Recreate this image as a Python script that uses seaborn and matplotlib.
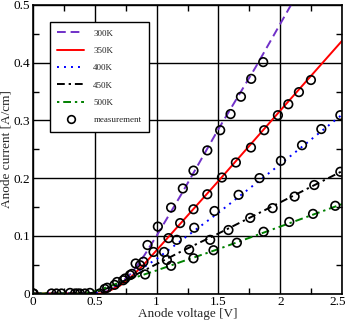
import numpy as np
import pandas as pd
import matplotlib
matplotlib.use("Agg")
import matplotlib.pyplot as plt
import matplotlib.transforms as mtransforms
import seaborn as sns
from matplotlib.ticker import MultipleLocator, FuncFormatter
from matplotlib.lines import Line2D

sns.set_theme(style="ticks")
plt.rcParams['font.family'] = ['Liberation Serif', 'DejaVu Serif']

# ---- model curves (anode voltage [V] -> anode current [A/cm]) ----
v_300 = [0.0, 0.5, 0.6, 0.7, 0.8, 0.9, 1.0, 1.2, 1.5, 1.8, 2.1]
i_300 = [0.0, 0.0, 0.004, 0.016, 0.036, 0.066, 0.100, 0.172, 0.285, 0.392, 0.505]

v_350 = [0.0, 0.55, 0.6, 0.7, 0.8, 0.9, 1.0, 1.2, 1.5, 2.0, 2.5]
i_350 = [0.0, 0.0, 0.003, 0.013, 0.030, 0.051, 0.075, 0.123, 0.195, 0.317, 0.438]

v_400 = [0.0, 0.5, 0.6, 0.7, 0.8, 0.9, 1.0, 1.2, 1.5, 2.0, 2.5]
i_400 = [0.0, 0.0, 0.007, 0.018, 0.032, 0.046, 0.060, 0.092, 0.140, 0.224, 0.310]

v_450 = [0.0, 0.45, 0.5, 0.6, 0.7, 0.8, 0.9, 1.0, 1.2, 1.5, 2.0, 2.5]
i_450 = [0.0, 0.0, 0.002, 0.009, 0.018, 0.029, 0.040, 0.051, 0.073, 0.104, 0.158, 0.212]

v_500 = [0.0, 0.4, 0.5, 0.6, 0.7, 0.8, 0.9, 1.0, 1.2, 1.5, 2.0, 2.5]
i_500 = [0.0, 0.0, 0.004, 0.011, 0.019, 0.026, 0.033, 0.040, 0.055, 0.077, 0.116, 0.155]

labels = ["300K", "350K", "400K", "450K", "500K"]
colors = ["#7030c8", "#ff0000", "#0000ff", "#000000", "#008000"]

# ---- measurements ----
meas_v_low = [0.0, 0.005, 0.15, 0.19, 0.23, 0.30, 0.34, 0.36, 0.38, 0.42, 0.46,
              0.54, 0.58, 0.60, 0.66, 0.68, 0.73, 0.745, 0.785, 0.80]
meas_i_low = [0.0, 0.0, 0.0, 0.0, 0.0, 0.001, 0.0, 0.0, 0.0, 0.0, 0.001,
              0.0, 0.008, 0.010, 0.015, 0.020, 0.023, 0.026, 0.032, 0.034]
meas_v_300 = [0.83, 0.926, 1.01, 1.117, 1.212, 1.298, 1.41, 1.514, 1.598, 1.682, 1.765, 1.862]
meas_i_300 = [0.052, 0.084, 0.116, 0.149, 0.182, 0.213, 0.248, 0.283, 0.311, 0.341, 0.372, 0.401]
meas_v_350 = [0.866, 0.975, 1.096, 1.19, 1.298, 1.41, 1.528, 1.641, 1.763, 1.870, 1.981, 2.065, 2.151, 2.248]
meas_i_350 = [0.049, 0.072, 0.096, 0.122, 0.146, 0.172, 0.201, 0.227, 0.253, 0.283, 0.309, 0.328, 0.349, 0.370]
meas_v_400 = [0.893, 1.06, 1.163, 1.304, 1.468, 1.663, 1.832, 2.005, 2.176, 2.332, 2.486]
meas_i_400 = [0.055, 0.072, 0.093, 0.114, 0.143, 0.171, 0.200, 0.230, 0.257, 0.285, 0.309]
meas_v_450 = [1.083, 1.263, 1.433, 1.581, 1.757, 1.938, 2.116, 2.275, 2.486]
meas_i_450 = [0.058, 0.076, 0.093, 0.110, 0.131, 0.148, 0.168, 0.188, 0.211]
meas_v_500 = [0.907, 1.117, 1.298, 1.46, 1.649, 1.865, 2.073, 2.265, 2.445]
meas_i_500 = [0.033, 0.048, 0.061, 0.075, 0.088, 0.107, 0.124, 0.138, 0.152]

model = pd.concat([
    pd.DataFrame({"V": v, "I": i, "T": lab})
    for v, i, lab in zip([v_300, v_350, v_400, v_450, v_500],
                         [i_300, i_350, i_400, i_450, i_500], labels)
], ignore_index=True)

meas = pd.DataFrame({
    "V": meas_v_low + meas_v_300 + meas_v_350 + meas_v_400 + meas_v_450 + meas_v_500,
    "I": meas_i_low + meas_i_300 + meas_i_350 + meas_i_400 + meas_i_450 + meas_i_500,
})

fig = plt.figure(figsize=(3.48, 3.22), dpi=100)
ax = fig.add_axes([0.0948, 0.0885, 0.8882, 0.896])

dashes = {
    "300K": (4.5, 2.5),
    "350K": "",
    "400K": (1, 2.6),
    "450K": (4, 2, 1.2, 2),
    "500K": (1.2, 2, 4, 2),
}
sns.lineplot(data=model, x="V", y="I", hue="T", style="T", palette=colors,
             dashes=dashes, hue_order=labels, style_order=labels,
             linewidth=1.4, ax=ax, legend=False, sort=False, estimator=None)

sns.scatterplot(data=meas, x="V", y="I", ax=ax, marker="o", s=38,
                facecolor="none", edgecolor="black", linewidth=1.2, zorder=5)

ax.set_xlim(0, 2.5)
ax.set_ylim(0, 0.5)
ax.xaxis.set_major_locator(MultipleLocator(0.5))
ax.xaxis.set_minor_locator(MultipleLocator(0.25))
ax.yaxis.set_major_locator(MultipleLocator(0.1))
ax.yaxis.set_minor_locator(MultipleLocator(0.05))
fmt = FuncFormatter(lambda v, p: "{:g}".format(round(v, 3)))
ax.xaxis.set_major_formatter(fmt)
ax.yaxis.set_major_formatter(fmt)
ax.grid(True, which="major", color="black", linewidth=1.0)
ax.tick_params(which="both", direction="in", top=True, right=True, colors="black",
               labelsize=9.5, pad=2)
ax.tick_params(which="major", length=0)
ax.tick_params(which="minor", length=4, width=1)
for s in ax.spines.values():
    s.set_color("black")
    s.set_linewidth(1.2)
ax.set_xlabel("Anode voltage [V]", fontsize=9.5, labelpad=0)
ax.set_ylabel("Anode current [A/cm]", fontsize=9.5, labelpad=1)

handles = []
for lab, c in zip(labels, colors):
    d = dashes[lab]
    h = Line2D([], [], color=c, linewidth=1.4)
    if d:
        h.set_dashes(d)
    handles.append(h)
handles.append(Line2D([], [], linestyle="none", marker="o", markersize=5.5,
                      markerfacecolor="none", markeredgecolor="black", markeredgewidth=1.2))
leg = ax.legend(handles, labels + ["measurement"], loc="upper left",
                bbox_to_anchor=(0.055, 0.941), borderaxespad=0, fontsize=6.5,
                handlelength=3.0, labelspacing=1.0, fancybox=False,
                framealpha=1, edgecolor="black", borderpad=0.8, handletextpad=1.0)
leg.get_frame().set_linewidth(1.0)

# keep the last x tick label inside the figure
fig.canvas.draw()
last = [t for t in ax.get_xticklabels() if t.get_text() == "2.5"]
for t in last:
    t.set_transform(t.get_transform() + mtransforms.ScaledTranslation(-3 / 72, 0, fig.dpi_scale_trans))

fig.savefig("out.png", dpi=100)
